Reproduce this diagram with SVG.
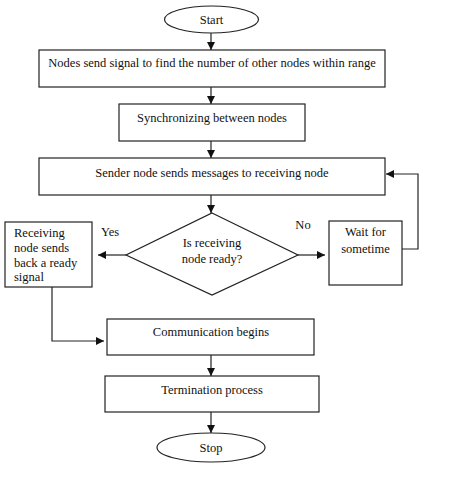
<svg xmlns="http://www.w3.org/2000/svg" width="474" height="479" viewBox="0 0 474 479">
<style>
.s{fill:#fff;stroke:#222;stroke-width:1.2}
.c{fill:none;stroke:#222;stroke-width:1.2}
text{font-family:"Liberation Serif","Times New Roman",serif;font-size:12.5px;fill:#111}
.m{text-anchor:middle}
</style>
<defs>
<marker id="ah" viewBox="0 0 10 10" refX="10" refY="5" markerWidth="8" markerHeight="8" markerUnits="userSpaceOnUse" orient="auto">
<path d="M0,0 L10,5 L0,10 Z" fill="#111"/>
</marker>
</defs>
<rect width="474" height="479" fill="#fff"/>
<g id="connectors">
<line class="c" x1="211" y1="33" x2="211" y2="50" marker-end="url(#ah)"/>
<line class="c" x1="211" y1="87" x2="211" y2="104" marker-end="url(#ah)"/>
<line class="c" x1="211" y1="141" x2="211" y2="158" marker-end="url(#ah)"/>
<line class="c" x1="211" y1="195" x2="211" y2="213" marker-end="url(#ah)"/>
<line class="c" x1="126" y1="255" x2="98" y2="255" marker-end="url(#ah)"/>
<line class="c" x1="298" y1="255" x2="325" y2="255" marker-end="url(#ah)"/>
<polyline class="c" points="402,249 418,249 418,174 386,174" marker-end="url(#ah)"/>
<polyline class="c" points="52,287 52,341 104,341" marker-end="url(#ah)"/>
<line class="c" x1="211" y1="355" x2="211" y2="376" marker-end="url(#ah)"/>
<line class="c" x1="211" y1="412" x2="211" y2="433" marker-end="url(#ah)"/>
<text x="110" y="236" class="m">Yes</text>
<text x="303" y="229" class="m">No</text>
</g>
<g id="start">
<ellipse class="s" cx="211.5" cy="19.5" rx="47" ry="13.5"/>
<text x="211.5" y="24" class="m">Start</text>
</g>
<g id="find">
<rect class="s" x="39" y="50" width="346" height="37"/>
<text x="212" y="67" class="m">Nodes send signal to find the number of other nodes within range</text>
</g>
<g id="sync">
<rect class="s" x="119" y="104" width="186" height="37"/>
<text x="212" y="122" class="m">Synchronizing between nodes</text>
</g>
<g id="sender">
<rect class="s" x="39" y="158" width="346" height="37"/>
<text x="212" y="177" class="m">Sender node sends messages to receiving node</text>
</g>
<g id="decision">
<polygon class="s" points="212,213 298,255 212,295 126,255"/>
<text x="212" y="247" class="m">Is receiving</text>
<text x="212" y="263" class="m">node ready?</text>
</g>
<g id="ready">
<rect class="s" x="5" y="222" width="87" height="65"/>
<text x="14" y="237">Receiving</text>
<text x="14" y="252">node sends</text>
<text x="14" y="267">back a ready</text>
<text x="14" y="281">signal</text>
</g>
<g id="wait">
<rect class="s" x="329" y="221" width="73" height="64"/>
<text x="365.5" y="236" class="m">Wait for</text>
<text x="365.5" y="253" class="m">sometime</text>
</g>
<g id="comm">
<rect class="s" x="107" y="319" width="207" height="36"/>
<text x="211" y="336" class="m">Communication begins</text>
</g>
<g id="term">
<rect class="s" x="105" y="376" width="214" height="36"/>
<text x="212" y="394" class="m">Termination process</text>
</g>
<g id="stop">
<ellipse class="s" cx="211" cy="447.5" rx="54" ry="14.5"/>
<text x="211" y="452" class="m">Stop</text>
</g>
</svg>
